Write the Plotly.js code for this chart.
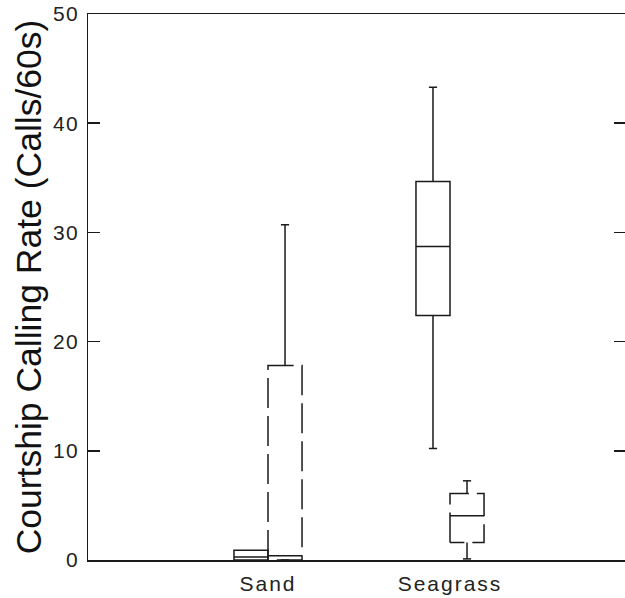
<!DOCTYPE html>
<html>
<head>
<meta charset="utf-8">
<script src="https://cdn.plot.ly/plotly-3.0.1.min.js"></script>
<style>
  html, body { margin: 0; padding: 0; overflow: hidden; background: #fff; }
  #chart { width: 640px; height: 598px; }
  .xtick text { letter-spacing: 2px; }
  .ytick text { letter-spacing: 1.5px; }
</style>
</head>
<body>
<div id="chart"></div>
<script>
// ---- data ----
const groups = ['Sand', 'Seagrass'];
const groupPos = [1, 2];

// solid boxes
const solidLower  = [0,    10.2];
const solidQ1     = [0,    22.4];
const solidMedian = [0.27, 28.7];
const solidQ3     = [0.9,  34.65];
const solidUpper  = [0.9,  43.3];

// dashed boxes
const dashedLower  = [0,    0.1];
const dashedQ1     = [0,    1.6];
const dashedMedian = [0.4,  4.05];
const dashedQ3     = [17.8, 6.1];
const dashedUpper  = [30.7, 7.25];

const yTicks = [0, 10, 20, 30, 40, 50];

// ---- layout helpers ----
const off = 0.0935;     // offset of each box from its group centre
const boxW = 0.187;     // box width in data units
const capFrac = 0.24;   // whisker cap width relative to box width
const ink = '#1a1a1a';
const lw = 1.5;

const solidTrace = {
  type: 'box',
  name: 'solid',
  x: groupPos.map(p => p - off),
  q1: solidQ1, median: solidMedian, q3: solidQ3,
  lowerfence: solidLower, upperfence: solidUpper,
  width: boxW,
  whiskerwidth: capFrac,
  fillcolor: 'rgba(0,0,0,0)',
  line: { color: ink, width: lw },
  showlegend: false,
  hoverinfo: 'skip'
};

// dashed boxes: outline dashed, whiskers/median solid
const outX = [], outY = [], whX = [], whY = [];
groupPos.forEach((p, i) => {
  const xc = p + off, h = boxW / 2, c = h * capFrac;
  outX.push(xc - h, xc - h, xc + h, xc + h, xc - h, null);
  outY.push(dashedQ1[i], dashedQ3[i], dashedQ3[i], dashedQ1[i], dashedQ1[i], null);
  whX.push(xc, xc, null, xc - c, xc + c, null, xc, xc, null, xc - c, xc + c, null, xc - h, xc + h, null);
  whY.push(dashedQ3[i], dashedUpper[i], null, dashedUpper[i], dashedUpper[i], null,
           dashedQ1[i], dashedLower[i], null, dashedLower[i], dashedLower[i], null,
           dashedMedian[i], dashedMedian[i], null);
});

const dashedOutline = {
  type: 'scatter', mode: 'lines', x: outX, y: outY,
  line: { color: ink, width: lw, dash: '30px,8px' },
  showlegend: false, hoverinfo: 'skip', cliponaxis: false
};
const dashedWhiskers = {
  type: 'scatter', mode: 'lines', x: whX, y: whY,
  line: { color: ink, width: lw },
  showlegend: false, hoverinfo: 'skip', cliponaxis: false
};

const layout = {
  width: 640, height: 598,
  margin: { l: 88, r: 14, t: 14, b: 38 },
  paper_bgcolor: '#fff', plot_bgcolor: '#fff',
  font: { family: 'Arial, "Liberation Sans", sans-serif', color: '#222' },
  boxmode: 'overlay',
  showlegend: false,
  hovermode: false,
  xaxis: {
    range: [0.011, 2.967],
    tickmode: 'array', tickvals: groupPos, ticktext: groups,
    ticks: '', showgrid: false, zeroline: false,
    showline: true, mirror: true, linecolor: ink, linewidth: lw,
    tickfont: { size: 21, color: '#222' },
    ticklabelstandoff: 4
  },
  yaxis: {
    range: [0, 50],
    tickmode: 'array', tickvals: yTicks,
    ticks: 'inside', ticklen: 12, tickwidth: lw, tickcolor: ink,
    showgrid: false, zeroline: false,
    showline: true, mirror: 'ticks', linecolor: ink, linewidth: lw,
    tickfont: { size: 21, color: '#222' },
    ticklabelstandoff: 3,
    title: { text: 'Courtship Calling Rate (Calls/60s)', font: { size: 35.5, color: '#111' }, standoff: 0 }
  }
};

Plotly.newPlot('chart', [solidTrace, dashedOutline, dashedWhiskers], layout, { staticPlot: true, displayModeBar: false });
</script>
</body>
</html>
